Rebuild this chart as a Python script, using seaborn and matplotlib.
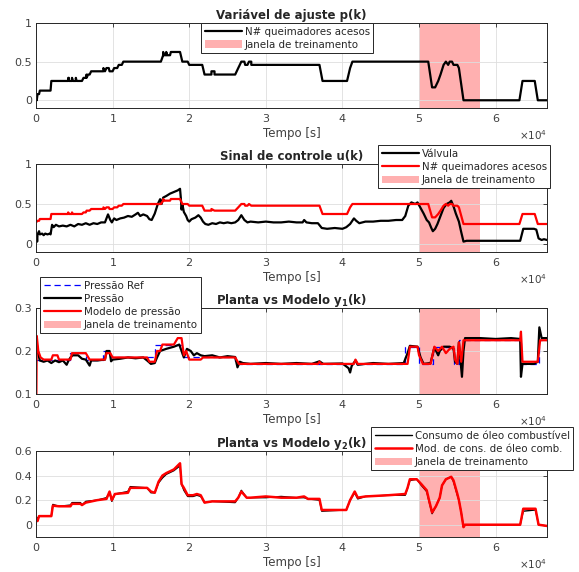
import numpy as np
import matplotlib
matplotlib.use("Agg")
from matplotlib import pyplot as plt
from matplotlib.ticker import ScalarFormatter
import seaborn as sns

# ---- data (time in units of 1e4 s, value) ----
janela = (5.0, 5.8)

p_queim = [(0, 0.0), (0.005, 0.04), (0.01, 0.0), (0.02, 0.08), (0.04, 0.08), (0.05, 0.125),
           (0.19, 0.125), (0.2, 0.25), (0.42, 0.25), (0.42, 0.29), (0.43, 0.29), (0.43, 0.25),
           (0.47, 0.25), (0.47, 0.29), (0.48, 0.25), (0.52, 0.25), (0.52, 0.29), (0.53, 0.25),
           (0.6, 0.25), (0.62, 0.29), (0.65, 0.29), (0.66, 0.333), (0.66, 0.29), (0.68, 0.333),
           (0.7, 0.333), (0.72, 0.375), (0.88, 0.375), (0.88, 0.417), (0.9, 0.375), (0.92, 0.417),
           (0.95, 0.417), (0.96, 0.375), (1.0, 0.375), (1.02, 0.417), (1.06, 0.417), (1.08, 0.458),
           (1.12, 0.458), (1.14, 0.5), (1.63, 0.5), (1.66, 0.583), (1.66, 0.625), (1.67, 0.583),
           (1.7, 0.583), (1.7, 0.625), (1.71, 0.583), (1.75, 0.583), (1.76, 0.625), (1.88, 0.625),
           (1.91, 0.5), (1.98, 0.5), (2.0, 0.458), (2.17, 0.458), (2.18, 0.417), (2.2, 0.333),
           (2.29, 0.333), (2.29, 0.375), (2.33, 0.375), (2.33, 0.333), (2.6, 0.333), (2.64, 0.417),
           (2.66, 0.458), (2.68, 0.5), (2.72, 0.5), (2.73, 0.458), (2.76, 0.458), (2.78, 0.5),
           (2.81, 0.5), (2.81, 0.458), (3.7, 0.458), (3.74, 0.25), (4.06, 0.25), (4.1, 0.417),
           (4.13, 0.5), (5.12, 0.5), (5.17, 0.167), (5.21, 0.167), (5.25, 0.25), (5.28, 0.333),
           (5.32, 0.458), (5.35, 0.5), (5.38, 0.458), (5.4, 0.5), (5.43, 0.5), (5.45, 0.458),
           (5.5, 0.458), (5.52, 0.417), (5.58, 0.0), (6.31, 0.0), (6.35, 0.25), (6.51, 0.25),
           (6.55, 0.0), (6.67, 0.0)]

u_queim = [(0, 0.27), (0.02, 0.29), (0.04, 0.29), (0.05, 0.3125), (0.19, 0.3125), (0.2, 0.375),
           (0.42, 0.375), (0.42, 0.395), (0.43, 0.375), (0.47, 0.375), (0.47, 0.395), (0.48, 0.375),
           (0.6, 0.375), (0.62, 0.395), (0.65, 0.395), (0.66, 0.417), (0.7, 0.417), (0.72, 0.4375),
           (0.88, 0.4375), (0.88, 0.458), (0.9, 0.4375), (0.92, 0.458), (0.95, 0.458), (0.96, 0.4375),
           (1.0, 0.4375), (1.02, 0.458), (1.06, 0.458), (1.08, 0.479), (1.12, 0.479), (1.14, 0.5),
           (1.63, 0.5), (1.66, 0.542), (1.66, 0.5625), (1.67, 0.542), (1.75, 0.542), (1.76, 0.5625),
           (1.88, 0.5625), (1.91, 0.5), (1.98, 0.5), (2.0, 0.479), (2.17, 0.479), (2.2, 0.417),
           (2.29, 0.417), (2.29, 0.4375), (2.33, 0.417), (2.6, 0.417), (2.64, 0.458), (2.68, 0.5),
           (2.72, 0.5), (2.73, 0.479), (2.76, 0.479), (2.78, 0.5), (2.81, 0.479), (3.7, 0.479),
           (3.74, 0.375), (4.06, 0.375), (4.1, 0.458), (4.13, 0.5), (5.12, 0.5), (5.17, 0.333),
           (5.21, 0.333), (5.25, 0.375), (5.28, 0.417), (5.32, 0.479), (5.35, 0.5), (5.38, 0.479),
           (5.4, 0.5), (5.43, 0.5), (5.45, 0.479), (5.5, 0.479), (5.52, 0.458), (5.58, 0.25),
           (6.31, 0.25), (6.35, 0.375), (6.51, 0.375), (6.55, 0.25), (6.67, 0.25)]

valvula = [(0, 0.05), (0.01, 0.1), (0.015, 0.03), (0.02, 0.12), (0.04, 0.16), (0.05, 0.12),
           (0.08, 0.13), (0.1, 0.11), (0.12, 0.13), (0.15, 0.12), (0.18, 0.13), (0.19, 0.12),
           (0.21, 0.24), (0.23, 0.21), (0.26, 0.24), (0.3, 0.22), (0.35, 0.23), (0.4, 0.22),
           (0.45, 0.24), (0.5, 0.22), (0.55, 0.25), (0.6, 0.24), (0.65, 0.26), (0.7, 0.24),
           (0.75, 0.26), (0.8, 0.25), (0.85, 0.27), (0.9, 0.27), (0.94, 0.37), (0.97, 0.3),
           (0.99, 0.27), (1.02, 0.32), (1.05, 0.3), (1.1, 0.32), (1.15, 0.33), (1.2, 0.35),
           (1.25, 0.34), (1.3, 0.37), (1.33, 0.39), (1.36, 0.35), (1.4, 0.37), (1.45, 0.35),
           (1.48, 0.31), (1.51, 0.3), (1.55, 0.38), (1.59, 0.5), (1.62, 0.56), (1.64, 0.5),
           (1.66, 0.58), (1.7, 0.6), (1.75, 0.63), (1.8, 0.65), (1.85, 0.67), (1.88, 0.69),
           (1.89, 0.58), (1.9, 0.43), (1.91, 0.5), (1.93, 0.4), (1.96, 0.35), (1.98, 0.3),
           (2.0, 0.28), (2.03, 0.31), (2.08, 0.33), (2.12, 0.36), (2.15, 0.33), (2.18, 0.28),
           (2.21, 0.25), (2.25, 0.24), (2.3, 0.26), (2.35, 0.25), (2.4, 0.27), (2.45, 0.26),
           (2.5, 0.27), (2.55, 0.26), (2.6, 0.27), (2.64, 0.3), (2.68, 0.36), (2.72, 0.3),
           (2.76, 0.27), (2.8, 0.28), (2.9, 0.27), (3.0, 0.28), (3.1, 0.27), (3.2, 0.27),
           (3.3, 0.28), (3.4, 0.27), (3.48, 0.27), (3.5, 0.3), (3.53, 0.27), (3.6, 0.26),
           (3.68, 0.26), (3.73, 0.2), (3.8, 0.19), (3.9, 0.2), (4.0, 0.19), (4.05, 0.21),
           (4.1, 0.25), (4.15, 0.32), (4.18, 0.29), (4.22, 0.26), (4.3, 0.28), (4.4, 0.28),
           (4.5, 0.29), (4.6, 0.29), (4.7, 0.3), (4.78, 0.3), (4.82, 0.35), (4.86, 0.48),
           (4.9, 0.52), (4.95, 0.5), (4.98, 0.52), (5.02, 0.45), (5.06, 0.38), (5.1, 0.3),
           (5.13, 0.27), (5.16, 0.2), (5.18, 0.16), (5.21, 0.19), (5.24, 0.25), (5.28, 0.35),
           (5.32, 0.45), (5.36, 0.5), (5.4, 0.52), (5.42, 0.54), (5.45, 0.47), (5.48, 0.38),
           (5.52, 0.28), (5.55, 0.15), (5.58, 0.03), (5.62, 0.04), (5.8, 0.04), (6.0, 0.04),
           (6.32, 0.04), (6.36, 0.19), (6.5, 0.19), (6.53, 0.18), (6.56, 0.07), (6.6, 0.05),
           (6.63, 0.06), (6.67, 0.05)]

pressao_ref = [(0, 0.18), (0.45, 0.18), (0.45, 0.195), (0.65, 0.195), (0.65, 0.18), (0.88, 0.18),
               (0.88, 0.2), (0.97, 0.2), (0.97, 0.185), (1.55, 0.185), (1.55, 0.215), (1.9, 0.215),
               (1.9, 0.185), (2.6, 0.185), (2.6, 0.17), (4.82, 0.17), (4.82, 0.21), (5.0, 0.21),
               (5.0, 0.17), (5.18, 0.17), (5.18, 0.21), (5.45, 0.21), (5.45, 0.17), (5.52, 0.17),
               (5.52, 0.225), (6.33, 0.225), (6.33, 0.17), (6.57, 0.17), (6.57, 0.225), (6.67, 0.225)]

pressao = [(0, 0.235), (0.02, 0.2), (0.05, 0.178), (0.1, 0.175), (0.15, 0.178), (0.2, 0.172),
           (0.25, 0.178), (0.3, 0.174), (0.35, 0.178), (0.4, 0.168), (0.42, 0.176), (0.45, 0.185),
           (0.48, 0.19), (0.55, 0.19), (0.6, 0.182), (0.65, 0.18), (0.7, 0.166), (0.72, 0.178),
           (0.8, 0.178), (0.9, 0.18), (0.92, 0.2), (0.96, 0.2), (0.98, 0.176), (1.0, 0.18),
           (1.1, 0.182), (1.2, 0.185), (1.3, 0.183), (1.4, 0.185), (1.45, 0.178), (1.5, 0.17),
           (1.55, 0.172), (1.58, 0.185), (1.62, 0.2), (1.7, 0.205), (1.8, 0.21), (1.87, 0.215),
           (1.9, 0.2), (1.93, 0.185), (1.97, 0.205), (2.02, 0.2), (2.06, 0.19), (2.1, 0.195),
           (2.15, 0.19), (2.2, 0.188), (2.3, 0.19), (2.4, 0.185), (2.5, 0.188), (2.6, 0.186),
           (2.63, 0.162), (2.66, 0.175), (2.7, 0.172), (2.8, 0.17), (3.0, 0.172), (3.2, 0.17),
           (3.4, 0.172), (3.6, 0.17), (3.7, 0.176), (3.75, 0.17), (4.0, 0.171), (4.08, 0.16),
           (4.1, 0.15), (4.12, 0.165), (4.17, 0.178), (4.2, 0.168), (4.4, 0.172), (4.6, 0.17),
           (4.8, 0.172), (4.85, 0.195), (4.88, 0.212), (4.98, 0.21), (5.02, 0.185), (5.06, 0.17),
           (5.15, 0.172), (5.2, 0.208), (5.25, 0.19), (5.27, 0.2), (5.32, 0.21), (5.4, 0.21),
           (5.45, 0.205), (5.47, 0.175), (5.5, 0.17), (5.52, 0.22), (5.54, 0.18), (5.56, 0.14),
           (5.58, 0.2), (5.6, 0.23), (5.8, 0.23), (6.0, 0.228), (6.2, 0.23), (6.32, 0.228),
           (6.33, 0.14), (6.35, 0.17), (6.5, 0.17), (6.55, 0.175), (6.57, 0.255), (6.6, 0.23),
           (6.67, 0.23)]

modelo_pressao = [(0, 0.1), (0.005, 0.1), (0.01, 0.235), (0.03, 0.2), (0.06, 0.185), (0.1, 0.18),
                  (0.2, 0.18), (0.22, 0.19), (0.28, 0.19), (0.3, 0.18), (0.45, 0.18), (0.47, 0.195),
                  (0.65, 0.195), (0.7, 0.18), (0.9, 0.18), (0.92, 0.195), (0.97, 0.195), (1.0, 0.185),
                  (1.45, 0.185), (1.48, 0.175), (1.55, 0.175), (1.58, 0.2), (1.62, 0.2), (1.65, 0.215),
                  (1.8, 0.215), (1.85, 0.23), (1.9, 0.23), (1.93, 0.19), (1.96, 0.2), (2.0, 0.18),
                  (2.15, 0.18), (2.18, 0.185), (2.6, 0.185), (2.65, 0.17), (3.68, 0.17), (3.7, 0.175),
                  (3.72, 0.17), (4.15, 0.17), (4.17, 0.18), (4.2, 0.17), (4.85, 0.17), (4.88, 0.21),
                  (4.98, 0.21), (5.0, 0.19), (5.05, 0.17), (5.15, 0.17), (5.2, 0.21), (5.25, 0.2),
                  (5.3, 0.21), (5.35, 0.195), (5.4, 0.205), (5.45, 0.21), (5.47, 0.18), (5.5, 0.17),
                  (5.52, 0.22), (5.55, 0.175), (5.58, 0.225), (6.32, 0.225), (6.33, 0.245),
                  (6.35, 0.175), (6.55, 0.175), (6.58, 0.225), (6.67, 0.225)]

consumo = [(0, 0.0), (0.01, 0.05), (0.03, 0.06), (0.05, 0.07), (0.2, 0.07), (0.22, 0.165),
           (0.3, 0.15), (0.45, 0.16), (0.47, 0.18), (0.58, 0.18), (0.6, 0.16), (0.65, 0.19),
           (0.8, 0.2), (0.92, 0.22), (0.96, 0.26), (0.99, 0.19), (1.03, 0.25), (1.2, 0.27),
           (1.23, 0.31), (1.45, 0.3), (1.5, 0.26), (1.55, 0.26), (1.6, 0.34), (1.65, 0.38),
           (1.7, 0.41), (1.8, 0.44), (1.88, 0.48), (1.9, 0.33), (1.93, 0.28), (1.98, 0.23),
           (2.05, 0.23), (2.1, 0.24), (2.15, 0.23), (2.2, 0.18), (2.3, 0.19), (2.6, 0.18),
           (2.64, 0.22), (2.68, 0.28), (2.75, 0.22), (2.8, 0.22), (3.0, 0.22), (3.2, 0.23),
           (3.4, 0.22), (3.5, 0.22), (3.55, 0.21), (3.7, 0.2), (3.73, 0.11), (4.05, 0.12),
           (4.1, 0.2), (4.16, 0.26), (4.2, 0.21), (4.3, 0.23), (4.6, 0.24), (4.82, 0.24),
           (4.85, 0.3), (4.88, 0.36), (4.97, 0.37), (5.03, 0.32), (5.1, 0.27), (5.13, 0.19),
           (5.17, 0.09), (5.22, 0.15), (5.27, 0.22), (5.3, 0.32), (5.35, 0.37), (5.42, 0.39),
           (5.45, 0.35), (5.5, 0.24), (5.52, 0.2), (5.55, 0.1), (5.58, -0.02), (5.6, 0.0),
           (6.32, 0.0), (6.36, 0.11), (6.52, 0.12), (6.56, 0.0), (6.67, -0.01)]

modelo_oleo = [(0, 0.05), (0.02, 0.03), (0.04, 0.07), (0.2, 0.07), (0.22, 0.155), (0.3, 0.15),
               (0.45, 0.15), (0.47, 0.17), (0.58, 0.17), (0.6, 0.16), (0.65, 0.18), (0.8, 0.2),
               (0.92, 0.21), (0.96, 0.27), (0.99, 0.2), (1.03, 0.25), (1.2, 0.26), (1.23, 0.3),
               (1.45, 0.3), (1.5, 0.27), (1.55, 0.26), (1.6, 0.35), (1.65, 0.4), (1.7, 0.42),
               (1.8, 0.45), (1.88, 0.5), (1.9, 0.33), (1.93, 0.3), (1.98, 0.24), (2.05, 0.24),
               (2.1, 0.25), (2.15, 0.24), (2.2, 0.18), (2.3, 0.19), (2.6, 0.19), (2.64, 0.22),
               (2.68, 0.27), (2.75, 0.22), (2.8, 0.22), (3.0, 0.23), (3.2, 0.22), (3.4, 0.22),
               (3.5, 0.23), (3.55, 0.21), (3.7, 0.21), (3.73, 0.12), (4.05, 0.12), (4.1, 0.2),
               (4.16, 0.27), (4.2, 0.22), (4.3, 0.23), (4.6, 0.24), (4.82, 0.25), (4.85, 0.3),
               (4.88, 0.37), (4.97, 0.37), (5.03, 0.33), (5.1, 0.28), (5.13, 0.2), (5.17, 0.1),
               (5.22, 0.15), (5.27, 0.22), (5.3, 0.32), (5.35, 0.37), (5.42, 0.39), (5.45, 0.36),
               (5.5, 0.25), (5.52, 0.2), (5.55, 0.1), (5.58, -0.02), (5.6, 0.0), (6.32, 0.0),
               (6.36, 0.13), (6.52, 0.13), (6.56, 0.0), (6.67, -0.01)]

titulos = ['Variável de ajuste p(k)', 'Sinal de controle u(k)',
           r'Planta vs Modelo y$_{\mathbf{1}}$(k)', r'Planta vs Modelo y$_{\mathbf{2}}$(k)']
ylims = [(-0.1, 1), (-0.1, 1), (0.1, 0.3), (-0.1, 0.6)]
yticks = [[0, 0.5, 1], [0, 0.5, 1], [0.1, 0.2, 0.3], [0, 0.2, 0.4, 0.6]]

# ---- style ----
sns.set_style("whitegrid")
plt.rcParams['font.family'] = ['DejaVu Sans']
plt.rcParams['mathtext.fontset'] = 'dejavusans'
plt.rcParams['axes.edgecolor'] = '0.15'
plt.rcParams['grid.color'] = '0.87'
plt.rcParams['grid.linewidth'] = 0.6

fig = plt.figure(figsize=(5.79, 5.72), dpi=100)
W, H = 579, 572
left, right = 36, 547
tops = [23, 164, 308, 451]
bottoms = [108, 252, 394, 537]
axs = [fig.add_axes([left / W, 1 - b / H, (right - left) / W, (b - t) / H])
       for t, b in zip(tops, bottoms)]


def serie(pares):
    arr = np.array(pares, dtype=float)
    return arr[:, 0] * 1e4, arr[:, 1]


def linha(ax, pares, **kw):
    t, v = serie(pares)
    sns.lineplot(x=t, y=v, ax=ax, sort=False, estimator=None, **kw)


rosa = (1.0, 0.69, 0.69)

# 1) p(k)
linha(axs[0], p_queim, color='k', linewidth=1.6, label='N# queimadores acesos')
# 2) u(k)
linha(axs[1], valvula, color='k', linewidth=1.6, label='Válvula')
linha(axs[1], u_queim, color='red', linewidth=1.6, label='N# queimadores acesos')
# 3) y1
linha(axs[2], pressao_ref, color='blue', linewidth=0.9, linestyle=(0, (5, 3)), label='Pressão Ref')
linha(axs[2], pressao, color='k', linewidth=1.6, label='Pressão')
linha(axs[2], modelo_pressao, color='red', linewidth=1.6, label='Modelo de pressão')
# 4) y2
linha(axs[3], consumo, color='k', linewidth=1.0, label='Consumo de óleo combustível')
linha(axs[3], modelo_oleo, color='red', linewidth=1.8, label='Mod. de cons. de óleo comb.')

leg_pos = [(201, 23), (378, 145), (40, 277), (371, 427)]

for ax, tit, yl, yt, lp in zip(axs, titulos, ylims, yticks, leg_pos):
    ax.axvspan(janela[0] * 1e4, janela[1] * 1e4, color=rosa, lw=0, zorder=0.5,
               label='Janela de treinamento')
    ax.set_xlim(0, 6.67e4)
    ax.set_ylim(*yl)
    ax.set_yticks(yt)
    ax.set_yticklabels([f'{v:g}' for v in yt])
    ax.set_xticks(np.arange(0, 7) * 1e4)
    fmt = ScalarFormatter(useMathText=True)
    fmt.set_powerlimits((0, 0))
    ax.xaxis.set_major_formatter(fmt)
    ax.xaxis.get_offset_text().set_fontsize(7.5)
    ax.xaxis.get_offset_text().set_color('0.3')
    ax.tick_params(direction='in', top=True, right=True, length=3, width=0.6,
                   labelsize=8, labelcolor='0.25', color='0.15', pad=3)
    for s in ax.spines.values():
        s.set_linewidth(0.7)
        s.set_color('0.15')
    ax.grid(True)
    ax.set_axisbelow(True)
    ax.set_xlabel('Tempo [s]', fontsize=8.5, color='0.25', labelpad=2)
    ax.set_ylabel('')
    ax.set_title(tit, fontsize=8.5, fontweight='bold', pad=3)
    leg = ax.legend(loc='upper left', bbox_to_anchor=(lp[0] / W, 1 - lp[1] / H),
                    bbox_transform=fig.transFigure, fontsize=7.4, frameon=True,
                    fancybox=False, framealpha=1, edgecolor='0.15', borderpad=0.35,
                    labelspacing=0.3, handlelength=3.6, handletextpad=0.3,
                    borderaxespad=0)
    leg.get_frame().set_linewidth(0.7)
    leg.set_zorder(10)
    for txt in leg.get_texts():
        txt.set_color('0.15')

fig.savefig('out.png', dpi=100)
